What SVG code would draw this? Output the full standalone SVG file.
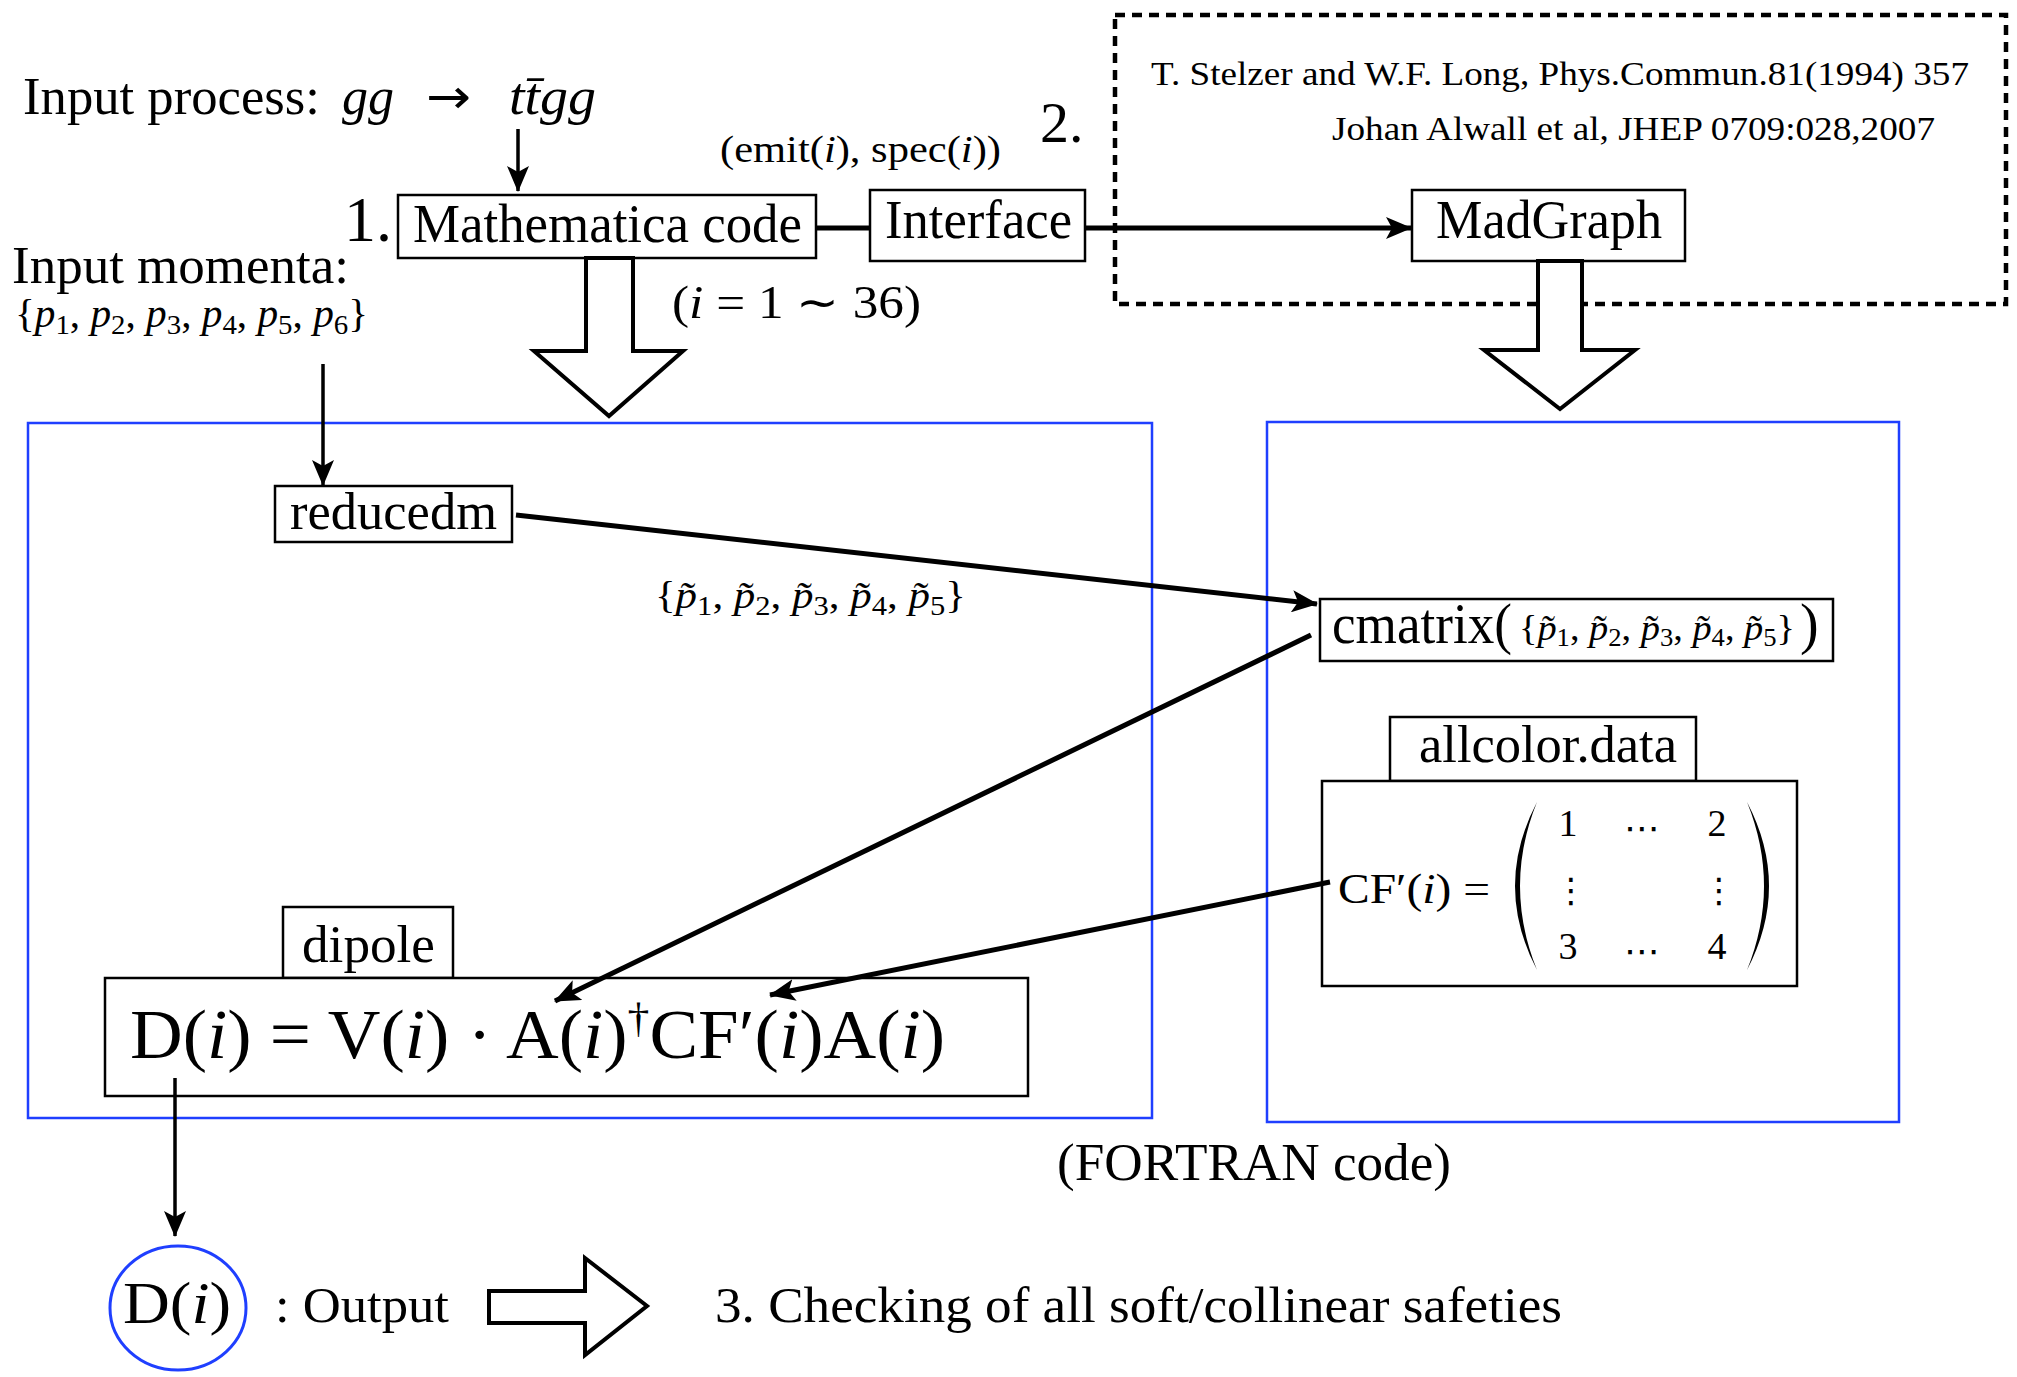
<svg xmlns="http://www.w3.org/2000/svg" width="2017" height="1377" viewBox="0 0 2017 1377">
  <style>
    text { font-family: "Liberation Serif", "Times New Roman", serif; fill: #000; }
    .it { font-style: italic; }
    .box { fill: #fff; stroke: #000; stroke-width: 2.5; }
    .blue { fill: none; stroke: #1f3fff; stroke-width: 2.5; }
    .wire { fill: none; stroke: #000; stroke-width: 5; }
    .thin { fill: none; stroke: #000; stroke-width: 3.5; }
    .hollow { fill: #fff; stroke: #000; stroke-width: 4; stroke-linejoin: miter; }
    .dots { font-family: "DejaVu Sans", sans-serif; }
  </style>
  <defs>
    <marker id="head" markerUnits="userSpaceOnUse" viewBox="0 0 26 22" refX="25" refY="11" markerWidth="26" markerHeight="22" orient="auto">
      <path d="M0,0 L26,11 L0,22 L6,11 Z" fill="#000"/>
    </marker>
  </defs>
  <rect width="2017" height="1377" fill="#fff"/>

  <!-- frames for the Mathematica part and the FORTRAN part -->
  <g id="frame-mathematica">
    <rect class="blue" x="28" y="423" width="1124" height="695"/>
  </g>
  <g id="frame-fortran">
    <rect class="blue" x="1267" y="422" width="632" height="700"/>
    <text x="1057" y="1180" font-size="52" textLength="394" lengthAdjust="spacingAndGlyphs">(FORTRAN code)</text>
  </g>
  <g id="frame-madgraph">
    <rect x="1115" y="15" width="891" height="289" fill="none" stroke="#000" stroke-width="4.5" stroke-dasharray="10 7"/>
    <text x="1151" y="85" font-size="33" textLength="818" lengthAdjust="spacingAndGlyphs">T. Stelzer and W.F. Long, Phys.Commun.81(1994) 357</text>
    <text x="1332" y="140" font-size="33" textLength="603" lengthAdjust="spacingAndGlyphs">Johan Alwall et al, JHEP 0709:028,2007</text>
  </g>

  <!-- inputs -->
  <g id="input-process">
    <text x="23" y="114" font-size="52" textLength="297" lengthAdjust="spacingAndGlyphs">Input process:</text>
    <text class="it" x="342" y="114" font-size="52">gg</text>
    <text class="dots" x="426" y="113" font-size="48" textLength="45" lengthAdjust="spacingAndGlyphs">→</text>
    <text class="it" x="509" y="114" font-size="52" textLength="87" lengthAdjust="spacingAndGlyphs">tt̄gg</text>
  </g>
  <g id="input-momenta">
    <text x="12" y="283" font-size="53" textLength="337" lengthAdjust="spacingAndGlyphs">Input momenta:</text>
    <text x="15" y="327" font-size="40" textLength="353" lengthAdjust="spacingAndGlyphs">{<tspan class="it">p</tspan><tspan font-size="28" dy="7">1</tspan><tspan dy="-7">, </tspan><tspan class="it">p</tspan><tspan font-size="28" dy="7">2</tspan><tspan dy="-7">, </tspan><tspan class="it">p</tspan><tspan font-size="28" dy="7">3</tspan><tspan dy="-7">, </tspan><tspan class="it">p</tspan><tspan font-size="28" dy="7">4</tspan><tspan dy="-7">, </tspan><tspan class="it">p</tspan><tspan font-size="28" dy="7">5</tspan><tspan dy="-7">, </tspan><tspan class="it">p</tspan><tspan font-size="28" dy="7">6</tspan><tspan dy="-7">}</tspan></text>
  </g>

  <!-- step 1 -->
  <g id="mathematica">
    <text x="344" y="241" font-size="64">1.</text>
    <rect class="box" x="398" y="195" width="418" height="63"/>
    <text x="413" y="242" font-size="54" textLength="389" lengthAdjust="spacingAndGlyphs">Mathematica code</text>
    <text x="672" y="318" font-size="46" textLength="249" lengthAdjust="spacingAndGlyphs">(<tspan class="it">i</tspan> = 1 ∼ 36)</text>
  </g>
  <g id="interface">
    <rect class="box" x="870" y="190" width="215" height="71"/>
    <text x="885" y="238" font-size="54" textLength="187" lengthAdjust="spacingAndGlyphs">Interface</text>
    <text x="720" y="162" font-size="38" textLength="281" lengthAdjust="spacingAndGlyphs">(emit(<tspan class="it">i</tspan>), spec(<tspan class="it">i</tspan>))</text>
  </g>
  <g id="madgraph">
    <text x="1040" y="142" font-size="58">2.</text>
    <rect class="box" x="1412" y="190" width="273" height="71"/>
    <text x="1436" y="238" font-size="54" textLength="226" lengthAdjust="spacingAndGlyphs">MadGraph</text>
  </g>

  <!-- nodes inside the frames -->
  <g id="reducedm">
    <rect class="box" x="275" y="486" width="237" height="56"/>
    <text x="290" y="529" font-size="52" textLength="207" lengthAdjust="spacingAndGlyphs">reducedm</text>
  </g>
  <g id="cmatrix">
    <rect class="box" x="1320" y="599" width="513" height="62"/>
    <text x="1332" y="643" font-size="56" textLength="180" lengthAdjust="spacingAndGlyphs">cmatrix(</text>
    <text x="1519" y="640" font-size="36" textLength="276" lengthAdjust="spacingAndGlyphs">{<tspan class="it">p̃</tspan><tspan font-size="25" dy="6">1</tspan><tspan dy="-6">, </tspan><tspan class="it">p̃</tspan><tspan font-size="25" dy="6">2</tspan><tspan dy="-6">, </tspan><tspan class="it">p̃</tspan><tspan font-size="25" dy="6">3</tspan><tspan dy="-6">, </tspan><tspan class="it">p̃</tspan><tspan font-size="25" dy="6">4</tspan><tspan dy="-6">, </tspan><tspan class="it">p̃</tspan><tspan font-size="25" dy="6">5</tspan><tspan dy="-6">}</tspan></text>
    <text x="1800" y="643" font-size="56">)</text>
  </g>
  <g id="allcolor">
    <rect class="box" x="1390" y="717" width="306" height="64"/>
    <text x="1419" y="762" font-size="52" textLength="258" lengthAdjust="spacingAndGlyphs">allcolor.data</text>
    <rect class="box" x="1322" y="781" width="475" height="205"/>
    <text x="1338" y="903" font-size="42" textLength="152" lengthAdjust="spacingAndGlyphs">CF′(<tspan class="it">i</tspan>) =</text>
    <path d="M1537,802 Q1493,886 1537,970 Q1503,886 1537,802 Z" fill="#000"/>
    <path d="M1747,802 Q1791,886 1747,970 Q1781,886 1747,802 Z" fill="#000"/>
    <g font-size="38" text-anchor="middle">
      <text x="1568" y="836">1</text>
      <text x="1717" y="836">2</text>
      <text x="1568" y="959">3</text>
      <text x="1717" y="959">4</text>
    </g>
    <g class="dots" font-size="34" text-anchor="middle">
      <text class="dots" x="1642" y="840" textLength="36" lengthAdjust="spacingAndGlyphs">⋯</text>
      <text class="dots" x="1642" y="963" textLength="36" lengthAdjust="spacingAndGlyphs">⋯</text>
      <text class="dots" x="1571" y="902">⋮</text>
      <text class="dots" x="1719" y="902">⋮</text>
    </g>
  </g>
  <g id="dipole">
    <rect class="box" x="283" y="907" width="170" height="71"/>
    <text x="302" y="962" font-size="52" textLength="133" lengthAdjust="spacingAndGlyphs">dipole</text>
    <rect class="box" x="105" y="978" width="923" height="118"/>
    <text x="130" y="1058" font-size="70" textLength="815" lengthAdjust="spacingAndGlyphs">D(<tspan class="it">i</tspan>) = V(<tspan class="it">i</tspan>) · A(<tspan class="it">i</tspan>)<tspan font-size="42" dy="-26">†</tspan><tspan dy="26">CF′(</tspan><tspan class="it">i</tspan>)A(<tspan class="it">i</tspan>)</text>
  </g>

  <!-- output and step 3 -->
  <g id="output">
    <ellipse cx="178" cy="1308" rx="68" ry="62" fill="none" stroke="#1f3fff" stroke-width="3"/>
    <text x="123" y="1323" font-size="60" textLength="108" lengthAdjust="spacingAndGlyphs">D(<tspan class="it">i</tspan>)</text>
    <text x="275" y="1322" font-size="50" textLength="174" lengthAdjust="spacingAndGlyphs">: Output</text>
  </g>
  <g id="check">
    <polygon class="hollow" points="489,1291 585,1291 585,1258 647,1306 585,1355 585,1323 489,1323"/>
    <text x="715" y="1322" font-size="50" textLength="847" lengthAdjust="spacingAndGlyphs">3. Checking of all soft/collinear safeties</text>
  </g>

  <!-- connectors -->
  <g id="connectors">
    <line class="thin" x1="518" y1="129" x2="518" y2="191" marker-end="url(#head)"/>
    <line class="wire" x1="816" y1="228" x2="870" y2="228"/>
    <line class="wire" x1="1085" y1="228" x2="1411" y2="228" marker-end="url(#head)"/>
    <polygon class="hollow" points="586,258 586,351 534,351 609,416 683,351 633,351 633,258"/>
    <polygon class="hollow" points="1538,261 1538,350 1484,350 1560,409 1635,350 1582,350 1582,261"/>
    <line class="thin" x1="323" y1="364" x2="323" y2="485" marker-end="url(#head)"/>
    <line class="wire" x1="516" y1="515" x2="1317" y2="604" marker-end="url(#head)"/>
    <text x="655" y="608" font-size="38" textLength="311" lengthAdjust="spacingAndGlyphs">{<tspan class="it">p̃</tspan><tspan font-size="27" dy="7">1</tspan><tspan dy="-7">, </tspan><tspan class="it">p̃</tspan><tspan font-size="27" dy="7">2</tspan><tspan dy="-7">, </tspan><tspan class="it">p̃</tspan><tspan font-size="27" dy="7">3</tspan><tspan dy="-7">, </tspan><tspan class="it">p̃</tspan><tspan font-size="27" dy="7">4</tspan><tspan dy="-7">, </tspan><tspan class="it">p̃</tspan><tspan font-size="27" dy="7">5</tspan><tspan dy="-7">}</tspan></text>
    <line class="wire" x1="1311" y1="635" x2="555" y2="1001" marker-end="url(#head)"/>
    <line class="wire" x1="1330" y1="882" x2="770" y2="995" marker-end="url(#head)"/>
    <line class="thin" x1="175" y1="1078" x2="175" y2="1236" marker-end="url(#head)"/>
  </g>
</svg>
